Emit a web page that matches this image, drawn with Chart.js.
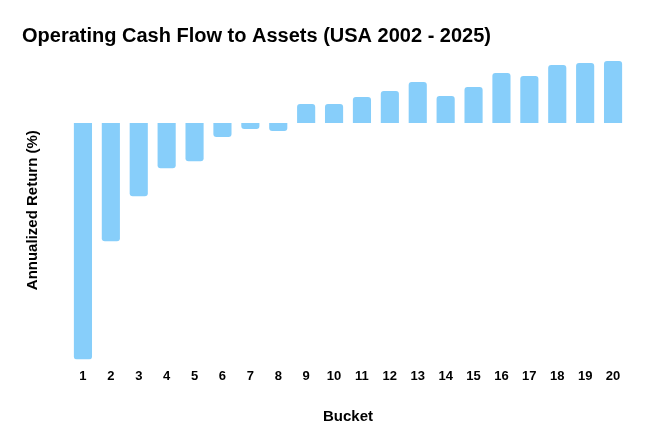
<!DOCTYPE html>
<html>
<head>
<meta charset="utf-8">
<script src="https://cdn.jsdelivr.net/npm/chart.js@4"></script>
<style>
  html, body { margin: 0; padding: 0; background: #fff; }
  #wrap { width: 654px; height: 448px; }
</style>
</head>
<body>
<div id="wrap"><canvas id="bars"></canvas></div>
<script>
// buckets and annualized returns (%)
var buckets = ['1', '2', '3', '4', '5', '6', '7', '8', '9', '10',
               '11', '12', '13', '14', '15', '16', '17', '18', '19', '20'];
var returns = [-11.8, -5.9, -3.65, -2.25, -1.9, -0.7, -0.3, -0.4, 0.95, 0.95,
               1.3, 1.6, 2.05, 1.35, 1.8, 2.5, 2.35, 2.9, 3.0, 3.1];

Chart.defaults.font.family = '"Liberation Sans", Arial, sans-serif';
Chart.defaults.color = '#000';

var chart = new Chart(document.getElementById('bars'), {
    type: 'bar',
    data: {
        labels: buckets,
        datasets: [{
            data: returns,
            backgroundColor: '#87CEFA',
            borderRadius: 3,
            categoryPercentage: 1,
            barPercentage: 0.65
        }]
    },
    options: {
        responsive: true,
        maintainAspectRatio: false,
        animation: false,
        layout: { padding: { left: 22, right: 27, top: 14, bottom: 22 } },
        plugins: {
            legend: { display: false },
            tooltip: { enabled: false },
            title: {
                display: true,
                text: 'Operating Cash Flow to Assets (USA 2002 - 2025)',
                align: 'start',
                font: { size: 20, weight: 'bold' },
                padding: { top: 10, bottom: 13 }
            }
        },
        scales: {
            x: {
                grid: { display: false },
                border: { display: false },
                ticks: { font: { size: 13, weight: 'bold' }, padding: 1, maxRotation: 0 },
                title: { display: true, text: 'Bucket', font: { size: 15, weight: 'bold' }, padding: { top: 23, bottom: 0 } }
            },
            y: {
                min: -11.8,
                max: 3.1,
                grid: { display: false },
                border: { display: false },
                ticks: { display: false },
                title: { display: true, text: 'Annualized Return (%)', font: { size: 15, weight: 'bold' }, padding: { top: 2, bottom: 19 } }
            }
        }
    }
});
</script>
</body>
</html>
